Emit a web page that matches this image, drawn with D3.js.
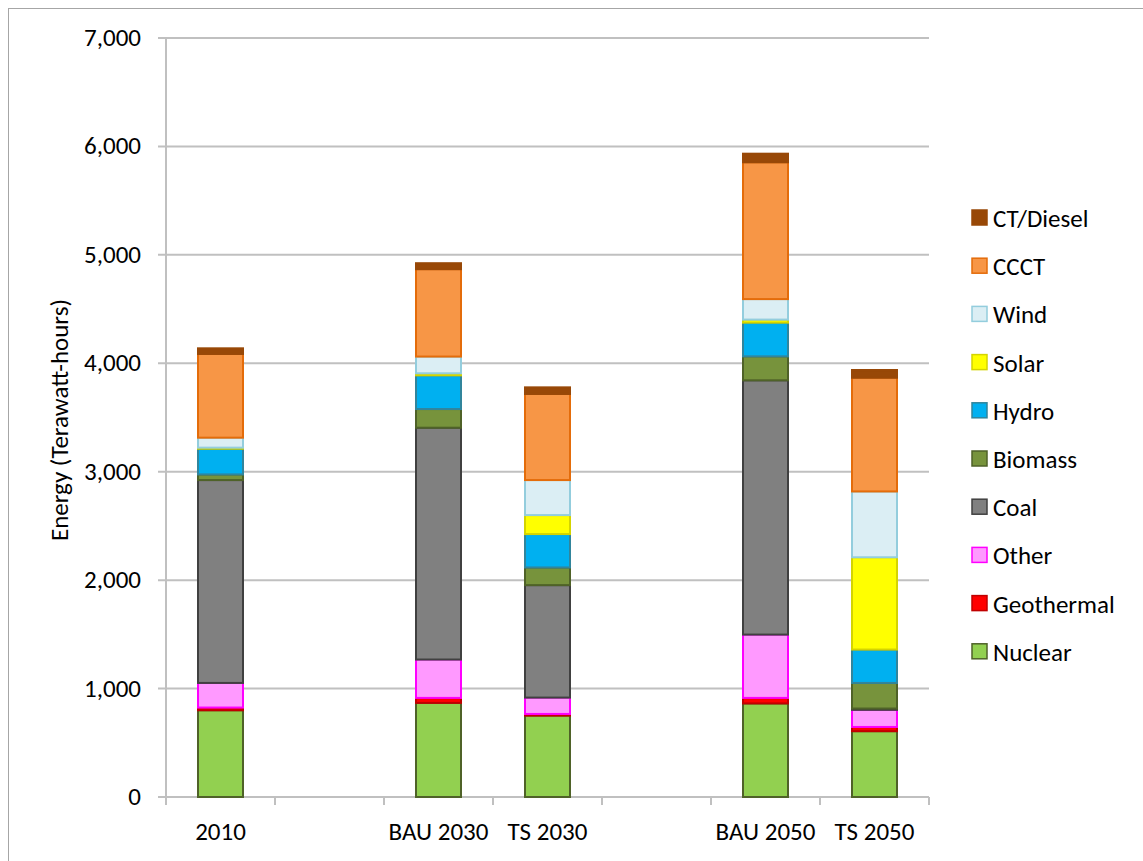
<!DOCTYPE html>
<html><head><meta charset="utf-8">
<script src="https://cdn.jsdelivr.net/npm/d3@7"></script>
<style>body{margin:0;background:#fff}text{font-family:Calibri,Carlito,"Liberation Sans",sans-serif}</style>
</head><body>
<svg id="chart" width="1143" height="861"></svg>
<script>
// categories (blank slots keep the gaps)
var categories = ["2010", "gap1", "BAU 2030", "TS 2030", "gap2", "BAU 2050", "TS 2050"];
var barLabels = ["2010", "BAU 2030", "TS 2030", "BAU 2050", "TS 2050"];
var series = ["Nuclear", "Geothermal", "Other", "Coal", "Biomass", "Hydro", "Solar", "Wind", "CCCT", "CT/Diesel"];
var nuclear    = [800, 868, 751, 863, 607];
var geothermal = [25, 46, 15, 51, 39];
var other      = [227, 354, 151, 584, 158];
var coal       = [1871, 2138, 1037, 2345, 12];
var biomass    = [52, 172, 163, 221, 236];
var hydro      = [237, 311, 308, 311, 308];
var solar      = [10, 19, 175, 28, 851];
var wind       = [92, 154, 323, 189, 607];
var ccct       = [772, 806, 794, 1262, 1049];
var ctDiesel   = [52, 55, 61, 79, 71];
var yTicks = [0, 1000, 2000, 3000, 4000, 5000, 6000, 7000];

var fills   = ["#92d050", "#ff0000", "#ff99ff", "#808080", "#77933c", "#00b0f0", "#ffff00", "#dbeef4", "#f79646", "#984807"];
var strokes = ["#4f6228", "#c00000", "#ff00ff", "#404040", "#4f6228", "#31859c", "#d4d400", "#93cddd", "#e46c0a", "#984807"];

var cols = [nuclear, geothermal, other, coal, biomass, hydro, solar, wind, ccct, ctDiesel];
var table = barLabels.map(function(c, i) {
  var row = {cat: c};
  series.forEach(function(s, j) { row[s] = cols[j][i]; });
  return row;
});
var stacked = d3.stack().keys(series)(table);

var svg = d3.select("#chart");
svg.append("rect").attr("x", 8.5).attr("y", 8.5).attr("width", 1140).attr("height", 860)
  .attr("fill", "none").attr("stroke", "#a6a6a6");

var plotL = 166, plotR = 929, plotT = 38, plotB = 797;
var x = d3.scaleBand().domain(categories).range([plotL, plotR]);
var y = d3.scaleLinear().domain([0, 7000]).range([plotB, plotT]);

// gridlines
svg.append("g").selectAll("line").data(yTicks).enter().append("line")
  .attr("x1", plotL - 8).attr("x2", plotR)
  .attr("y1", function(d) { return y(d); }).attr("y2", function(d) { return y(d); })
  .attr("stroke", "#c0c0c0").attr("stroke-width", 2);
svg.append("line").attr("x1", plotL).attr("x2", plotL).attr("y1", plotT).attr("y2", plotB + 8)
  .attr("stroke", "#c0c0c0").attr("stroke-width", 2);
// category ticks
var bounds = categories.map(function(c) { return x(c); }).concat([plotR]);
svg.append("g").selectAll("line").data(bounds).enter().append("line")
  .attr("x1", function(d) { return d; }).attr("x2", function(d) { return d; })
  .attr("y1", plotB).attr("y2", plotB + 8).attr("stroke", "#c0c0c0").attr("stroke-width", 2);

svg.append("g").selectAll("text").data(yTicks).enter().append("text")
  .attr("x", 141).attr("y", function(d) { return y(d) + 8; })
  .attr("text-anchor", "end").attr("font-size", 25).attr("fill", "#000")
  .text(d3.format(","));

svg.append("g").selectAll("text").data(barLabels).enter().append("text")
  .attr("x", function(d) { return x(d) + x.bandwidth() / 2; }).attr("y", 840)
  .attr("text-anchor", "middle").attr("font-size", 25).text(function(d) { return d; });

svg.append("text").attr("transform", "translate(68,420) rotate(-90)")
  .attr("text-anchor", "middle").attr("font-size", 25).text("Energy (Terawatt-hours)");

var bw = 45;
svg.append("g").selectAll("g").data(stacked).enter().append("g")
  .attr("fill", function(d, i) { return fills[i]; })
  .attr("stroke", function(d, i) { return strokes[i]; })
  .attr("stroke-width", 2)
  .selectAll("rect").data(function(d) { return d; }).enter().append("rect")
  .attr("x", function(d) { return x(d.data.cat) + (x.bandwidth() - bw) / 2; })
  .attr("width", bw)
  .attr("y", function(d) { return y(d[1]); })
  .attr("height", function(d) { return y(d[0]) - y(d[1]); });

// legend (top to bottom in reverse series order)
var legend = svg.append("g").selectAll("g").data(series.slice().reverse()).enter().append("g")
  .attr("transform", function(d, i) { return "translate(972," + (218 + i * 48.2) + ")"; });
legend.append("rect").attr("x", 0).attr("y", -8).attr("width", 15).attr("height", 15)
  .attr("fill", function(d) { return fills[series.indexOf(d)]; })
  .attr("stroke", function(d) { return strokes[series.indexOf(d)]; }).attr("stroke-width", 1.5);
legend.append("text").attr("x", 21).attr("y", 9).attr("font-size", 25).text(function(d) { return d; });
</script>
</body></html>
